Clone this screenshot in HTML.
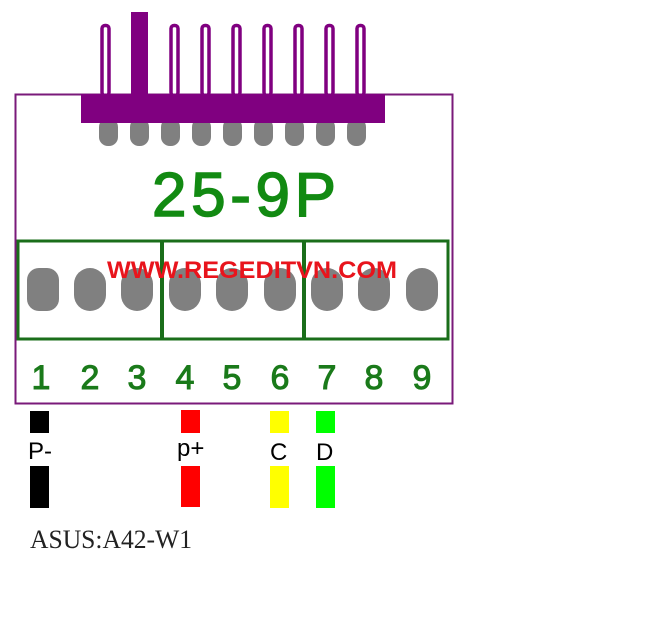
<!DOCTYPE html>
<html><head><style>
body{margin:0;width:663px;height:627px;background:#fff;overflow:hidden}
</style></head><body>
<svg width="663" height="627" xmlns="http://www.w3.org/2000/svg">
<rect x="15.5" y="94.5" width="437" height="309" fill="none" stroke="#7a1a7a" stroke-width="2"/>
<g fill="#808080">
<rect x="99" y="118" width="19" height="28" rx="9"/><rect x="130" y="118" width="19" height="28" rx="9"/><rect x="161" y="118" width="19" height="28" rx="9"/><rect x="192" y="118" width="19" height="28" rx="9"/><rect x="223" y="118" width="19" height="28" rx="9"/><rect x="254" y="118" width="19" height="28" rx="9"/><rect x="285" y="118" width="19" height="28" rx="9"/><rect x="316" y="118" width="19" height="28" rx="9"/><rect x="347" y="118" width="19" height="28" rx="9"/>
</g>
<g fill="none" stroke="#800080" stroke-width="3.5">
<rect x="102" y="25.5" width="7" height="70" rx="3"/><rect x="171" y="25.5" width="7" height="70" rx="3"/><rect x="202" y="25.5" width="7" height="70" rx="3"/><rect x="233" y="25.5" width="7" height="70" rx="3"/><rect x="264" y="25.5" width="7" height="70" rx="3"/><rect x="295" y="25.5" width="7" height="70" rx="3"/><rect x="326" y="25.5" width="7" height="70" rx="3"/><rect x="357" y="25.5" width="7" height="70" rx="3"/>
</g>
<rect x="131" y="12" width="17" height="85" fill="#800080"/>
<rect x="81" y="94" width="304" height="29" fill="#800080"/>
<text x="152" y="216" textLength="184" lengthAdjust="spacing" font-family="Liberation Sans, sans-serif" font-size="62" fill="#128a12" stroke="#128a12" stroke-width="1.5">25-9P</text>
<rect x="18" y="241" width="430" height="98" fill="none" stroke="#1a6e1a" stroke-width="3"/>
<line x1="162" y1="241" x2="162" y2="339" stroke="#1a6e1a" stroke-width="4"/>
<line x1="304" y1="241" x2="304" y2="339" stroke="#1a6e1a" stroke-width="4"/>
<g fill="#808080">
<rect x="27" y="268" width="32" height="43" rx="12"/><rect x="74" y="268" width="32" height="43" rx="16"/><rect x="121" y="268" width="32" height="43" rx="16"/><rect x="169" y="268" width="32" height="43" rx="16"/><rect x="216" y="268" width="32" height="43" rx="16"/><rect x="264" y="268" width="32" height="43" rx="16"/><rect x="311" y="268" width="32" height="43" rx="16"/><rect x="358" y="268" width="32" height="43" rx="16"/><rect x="406" y="268" width="32" height="43" rx="16"/>
</g>
<text x="107" y="278" textLength="290" lengthAdjust="spacingAndGlyphs" font-family="Liberation Sans, sans-serif" font-weight="bold" font-size="24" fill="#e8141c">WWW.REGEDITVN.COM</text>
<g font-family="Liberation Sans, sans-serif" font-size="34" fill="#1a7a1a" stroke="#1a7a1a" stroke-width="1" text-anchor="middle">
<text x="41" y="389">1</text><text x="90" y="389">2</text><text x="137" y="389">3</text><text x="185" y="389">4</text><text x="232" y="389">5</text><text x="280" y="389">6</text><text x="327" y="389">7</text><text x="374" y="389">8</text><text x="422" y="389">9</text>
</g>
<rect x="30" y="411" width="19" height="22" fill="#000"/><rect x="30" y="466" width="19" height="42" fill="#000"/>
<rect x="181" y="410" width="19" height="23" fill="#f00"/><rect x="181" y="466" width="19" height="41" fill="#f00"/>
<rect x="270" y="411" width="19" height="22" fill="#ff0"/><rect x="270" y="466" width="19" height="42" fill="#ff0"/>
<rect x="316" y="411" width="19" height="22" fill="#0f0"/><rect x="316" y="466" width="19" height="42" fill="#0f0"/>
<g font-family="Liberation Sans, sans-serif" font-size="24" fill="#000">
<text x="28" y="459">P-</text><text x="177" y="456">p+</text><text x="270" y="460">C</text><text x="316" y="460">D</text>
</g>
<text x="30" y="548" textLength="162" lengthAdjust="spacingAndGlyphs" font-family="Liberation Serif, serif" font-size="26" fill="#222">ASUS:A42-W1</text>
</svg>
</body></html>
